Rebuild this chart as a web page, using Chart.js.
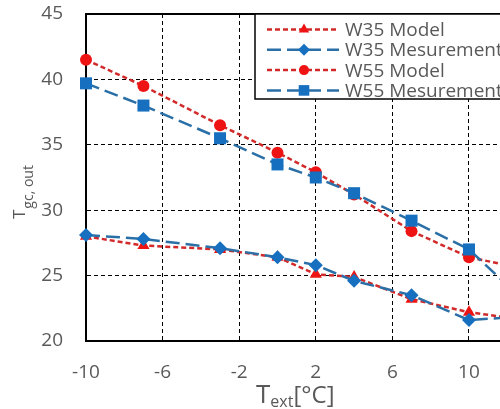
<!DOCTYPE html>
<html>
<head>
<meta charset="utf-8">
<script src="https://cdn.jsdelivr.net/npm/chart.js@4"></script>
<style>
  html, body { margin: 0; padding: 0; background: #fff; overflow: hidden; }
  #wrap { position: relative; width: 500px; height: 409px; }
</style>
</head>
<body>
<div id="wrap"><canvas id="grafico" width="500" height="409"></canvas></div>
<script>
// dados
const tempExt = [-10, -7, -3, 0, 2, 4, 7, 10, 13];
const w35Model = [28.0, 27.3, 27.0, 26.4, 25.1, 24.9, 23.2, 22.2, 21.6];
const w35Mesurement = [28.1, 27.8, 27.1, 26.4, 25.8, 24.6, 23.5, 21.6, 21.9];
const w55Model = [41.5, 39.5, 36.5, 34.4, 32.9, 31.2, 28.4, 26.4, 25.5];
const w55Mesurement = [39.7, 38.0, 35.5, 33.5, 32.5, 31.3, 29.2, 27.0, 22.9];
const xTicks = [-10, -6, -2, 2, 6, 10];
const yTicks = [20, 25, 30, 35, 40, 45];
const seriesNames = ['W35 Model', 'W35 Mesurement', 'W55 Model', 'W55 Mesurement'];

const RED_LINE = '#d22a2a';
const RED_PT = '#ee1414';
const BLUE_LINE = '#2a6fa6';
const BLUE_PT = '#1670bf';
const GREY = '#595959';
const FONT = '"Open Sans", "Liberation Sans", sans-serif';

const toPts = ys => tempExt.map((x, i) => ({ x: x, y: ys[i] }));

function serie(label, ys, model, style, radius) {
    return {
        label: label,
        data: toPts(ys),
        borderColor: model ? RED_LINE : BLUE_LINE,
        backgroundColor: model ? RED_PT : BLUE_PT,
        pointBackgroundColor: model ? RED_PT : BLUE_PT,
        pointBorderColor: model ? RED_PT : BLUE_PT,
        pointBorderWidth: 0,
        borderWidth: 2.5,
        borderDash: model ? [5, 3] : [14, 6],
        pointStyle: style,
        pointRadius: radius,
        tension: 0,
        clip: { left: 12, top: 12, bottom: 12, right: 0 },
        order: model ? 1 : 0
    };
}

// linha de topo, legenda e titulos dos eixos
const extras = {
    id: 'extras',
    afterDraw(chart) {
        const { ctx, chartArea: { left, right, top } } = chart;
        ctx.save();
        ctx.strokeStyle = '#000';
        ctx.lineWidth = 2;
        ctx.beginPath();
        ctx.moveTo(left, top);
        ctx.lineTo(right, top);
        ctx.stroke();

        // --- legenda ---
        const bx = 255, by = top, bw = 270, bh = 85;
        ctx.fillStyle = '#fff';
        ctx.fillRect(bx, by, bw, bh);
        ctx.lineWidth = 1.5;
        ctx.strokeRect(bx, by, bw, bh);
        ctx.font = '19px ' + FONT;
        ctx.textBaseline = 'middle';
        ctx.textAlign = 'left';
        seriesNames.forEach((name, i) => {
            const ds = chart.data.datasets.find(d => d.label === name);
            const yy = by + 15.5 + i * 20.3;
            ctx.save();
            ctx.strokeStyle = ds.borderColor;
            ctx.lineWidth = ds.borderWidth;
            ctx.setLineDash(ds.borderDash);
            ctx.beginPath();
            ctx.moveTo(267, yy);
            ctx.lineTo(339, yy);
            ctx.stroke();
            ctx.restore();
            ctx.fillStyle = ds.pointBackgroundColor;
            ctx.strokeStyle = ds.pointBackgroundColor;
            ctx.lineWidth = 0;
            Chart.helpers.drawPoint(ctx, { pointStyle: ds.pointStyle, radius: ds.pointRadius - 1, borderWidth: 0 }, 304, yy);
            ctx.fillStyle = GREY;
            ctx.fillText(name, 345, yy + 1);
        });

        // --- titulo eixo X ---
        ctx.fillStyle = GREY;
        ctx.textBaseline = 'alphabetic';
        ctx.font = '26px ' + FONT;
        ctx.fillText('T', 256, 403);
        let w = ctx.measureText('T').width;
        ctx.font = '16px ' + FONT;
        ctx.fillText('ext', 256 + w, 407);
        const w2 = ctx.measureText('ext').width;
        ctx.font = '24px ' + FONT;
        ctx.fillText('[°C]', 256 + w + w2, 403);

        // --- titulo eixo Y ---
        ctx.translate(25, 219);
        ctx.rotate(-Math.PI / 2);
        ctx.font = '17px ' + FONT;
        ctx.fillText('T', 0, 0);
        w = ctx.measureText('T').width;
        ctx.font = '14px ' + FONT;
        ctx.fillText('gc, out', w + 1, 8);
        ctx.restore();
    }
};

const ctx = document.getElementById('grafico').getContext('2d');
new Chart(ctx, {
    type: 'line',
    data: {
        datasets: [
            serie('W35 Model', w35Model, true, 'triangle', 7),
            serie('W35 Mesurement', w35Mesurement, false, 'rectRot', 7),
            serie('W55 Model', w55Model, true, 'circle', 6),
            serie('W55 Mesurement', w55Mesurement, false, 'rect', 8.5)
        ]
    },
    options: {
        responsive: false,
        animation: false,
        layout: { autoPadding: false, padding: { top: 14, right: 0, left: 0, bottom: 0 } },
        plugins: {
            legend: { display: false },
            tooltip: { enabled: false }
        },
        scales: {
            x: {
                type: 'linear',
                min: -10,
                max: 11.62,
                afterBuildTicks: s => { s.ticks = xTicks.map(v => ({ value: v })); },
                afterFit: s => { s.height = 68; s.paddingLeft = 0; s.paddingRight = 0; },
                grid: {
                    drawTicks: false,
                    lineWidth: 1,
                    color: c => (c.tick && c.tick.value === -10) ? 'rgba(0,0,0,0)' : '#000'
                },
                border: { display: true, color: '#000', width: 2, dash: [4, 3] },
                ticks: { padding: 20, color: GREY, font: { size: 19, family: FONT }, maxRotation: 0 }
            },
            y: {
                min: 20,
                max: 45,
                afterBuildTicks: s => { s.ticks = yTicks.map(v => ({ value: v })); },
                afterFit: s => { s.width = 86; s.paddingTop = 0; s.paddingBottom = 0; },
                grid: {
                    drawTicks: false,
                    lineWidth: 1,
                    color: c => (c.tick && (c.tick.value === 20 || c.tick.value === 45)) ? 'rgba(0,0,0,0)' : '#000'
                },
                border: { display: true, color: '#000', width: 2, dash: [4, 3] },
                ticks: { padding: 23, color: GREY, font: { size: 19, family: FONT } }
            }
        }
    },
    plugins: [extras]
});
</script>
</body>
</html>
